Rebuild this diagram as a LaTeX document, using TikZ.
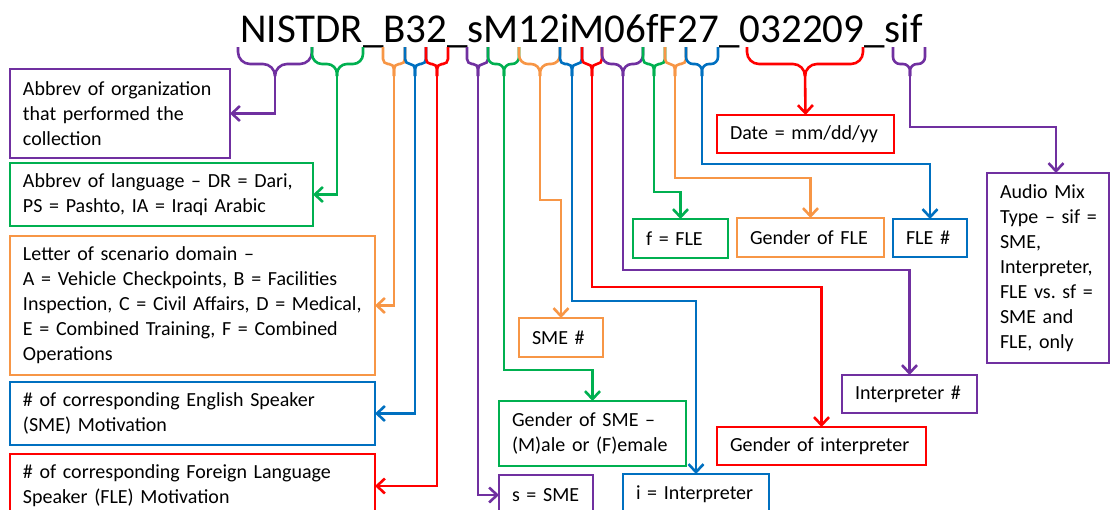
\documentclass[tikz,border=0pt]{standalone}
\usepackage{fontspec}
\setmainfont{Carlito}[WordSpace=0.7]
\usetikzlibrary{arrows.meta,calc}
\definecolor{cpur}{HTML}{7030A0}
\definecolor{cgrn}{HTML}{00B050}
\definecolor{corg}{HTML}{F79646}
\definecolor{cblu}{HTML}{0070C0}
\definecolor{cred}{HTML}{FF0000}
\tikzset{
  lw/.style={line width=2.6pt},
  bx/.style={draw=#1, lw, anchor=north west, align=left, inner xsep=13pt, inner ysep=0pt,
    outer sep=0pt, font=\fontsize{20}{25}\selectfont\frenchspacing, text=black},
  conn/.style={draw=#1, lw, -{Straight Barb[length=8pt,width=15pt]}},
  brc/.style={draw=#1, lw},
}
\newcommand\mybrace[5]{%
  \draw[brc=#4, rounded corners=#5pt] (#1,47) -- (#1,64) -- (#3,64) -- (#3,76);
  \draw[brc=#4, rounded corners=#5pt] (#2,47) -- (#2,64) -- (#3,64) -- (#3,76);
}
\begin{document}
\begin{tikzpicture}[x=1pt,y=-1pt]
\useasboundingbox (0,0) rectangle (1110,509);
\node[font=\fontsize{41}{45}\selectfont, anchor=base, inner sep=0pt] (title) at (581.5,42)
  {NISTDR\_B32\_sM12iM06fF27\_032209\_sif};

% braces
\mybrace{238}{312}{275}{cpur}{12}
\mybrace{312}{363}{337}{cgrn}{10}
\mybrace{383}{405}{394}{corg}{5}
\mybrace{405}{426}{415}{cblu}{5}
\mybrace{426}{448}{437}{cred}{5}
\mybrace{467}{488}{478}{cpur}{5}
\mybrace{488}{519}{504}{cgrn}{7}
\mybrace{519}{560}{540}{corg}{9}
\mybrace{560}{582}{572}{cblu}{5}
\mybrace{582}{602}{592}{cred}{5}
\mybrace{602}{643}{623}{cpur}{9}
\mybrace{643}{665}{654}{cgrn}{5}
\mybrace{665}{686}{675}{corg}{5}
\mybrace{686}{718}{702}{cblu}{7}
\mybrace{747}{863}{805}{cred}{12}
\mybrace{893}{925}{910}{cpur}{7}

\coordinate (t1) at (275,72);
\coordinate (t2) at (337,72);
\coordinate (t3) at (394,72);
\coordinate (t4) at (415,72);
\coordinate (t5) at (437,72);
\coordinate (t6) at (478,72);
\coordinate (t7) at (504,72);
\coordinate (t8) at (540,72);
\coordinate (t9) at (572,72);
\coordinate (t10) at (592,72);
\coordinate (t11) at (623,72);
\coordinate (t12) at (654,72);
\coordinate (t13) at (675,72);
\coordinate (t14) at (702,72);
\coordinate (t15) at (805,72);
\coordinate (t16) at (910,72);

% boxes
\node[bx=cpur, text width=194pt, minimum height=89pt] (org) at (10,69)
  {Abbrev of organization\\that performed the\\collection};
\node[bx=cgrn, text width=277pt, minimum height=63pt] (lang) at (10,163)
  {Abbrev of language – DR = Dari,\\PS = Pashto, IA = Iraqi Arabic};
\node[bx=corg, text width=339pt, minimum height=139pt] (scen) at (10,236)
  {Letter of scenario domain –\\A = Vehicle Checkpoints, B = Facilities\\Inspection, C = Civil Affairs, D = Medical,\\E = Combined Training, F = Combined\\Operations};
\node[bx=cblu, text width=339pt, minimum height=63pt] (smemot) at (10,382)
  {\# of corresponding English Speaker\\(SME) Motivation};
\node[bx=cred, text width=339pt, minimum height=64pt] (flemot) at (10,454)
  {\# of corresponding Foreign Language\\Speaker (FLE) Motivation};
\node[bx=cpur, text width=68pt, minimum height=40pt] (ssme) at (499,475) {s = SME};
\node[bx=cgrn, text width=161pt, minimum height=65pt] (gsme) at (499,401)
  {Gender of SME –\\(M)ale or (F)emale};
\node[bx=corg, text width=58pt, minimum height=39pt] (smenum) at (519,318) {SME \#};
\node[bx=cblu, text width=120pt, minimum height=40pt] (interp) at (623,474) {i = Interpreter};
\node[bx=cred, text width=183pt, minimum height=38pt] (ginterp) at (717,427) {Gender of interpreter};
\node[bx=cpur, text width=109pt, minimum height=38pt] (interpnum) at (842,375) {Interpreter \#};
\node[bx=cgrn, text width=69pt, minimum height=39pt] (ffle) at (633,219) {f = FLE};
\node[bx=corg, text width=121pt, minimum height=39pt] (gfle) at (737,218) {Gender of FLE};
\node[bx=cblu, text width=48pt, minimum height=38pt] (flenum) at (893,219) {FLE \#};
\node[bx=cred, text width=151pt, minimum height=38pt] (date) at (717,115) {Date = mm/dd/yy};
\node[bx=cpur, text width=96pt, minimum height=190pt] (audio) at (987,173)
  {\mbox{Audio Mix}\\\mbox{Type – sif =}\\SME,\\Interpreter,\\\mbox{FLE vs. sf =}\\\mbox{SME and}\\\mbox{FLE, only}};
\coordinate (audtop) at ($(audio.north west)+(69,0)$);

% connectors
\draw[conn=cpur] (t1) |- (org.east);
\draw[conn=cgrn] (t2) |- (lang.east);
\draw[conn=corg] (t3) |- (scen.east);
\draw[conn=cblu] (t4) |- (smemot.east);
\draw[conn=cred] (t5) |- (flemot.east);
\draw[conn=cpur] (t6) |- (ssme.west);
\draw[conn=cgrn] (t7) -- ++(0,298) -| (gsme.north);
\draw[conn=corg] (t8) -- ++(0,128) -| (smenum.north);
\draw[conn=cblu] (t9) -- ++(0,229) -| (interp.north);
\draw[conn=cred] (t10) -- ++(0,215) -| (ginterp.north);
\draw[conn=cpur] (t11) -- ++(0,198) -| (interpnum.north);
\draw[conn=cgrn] (t12) -- ++(0,120) -| (ffle.north);
\draw[conn=corg] (t13) -- ++(0,106) -| (gfle.north);
\draw[conn=cblu] (t14) -- ++(0,92) -| (flenum.north);
\draw[conn=cred] (t15) -- (date.north);
\draw[conn=cpur] (t16) -- ++(0,55) -| (audtop);
\end{tikzpicture}
\end{document}
